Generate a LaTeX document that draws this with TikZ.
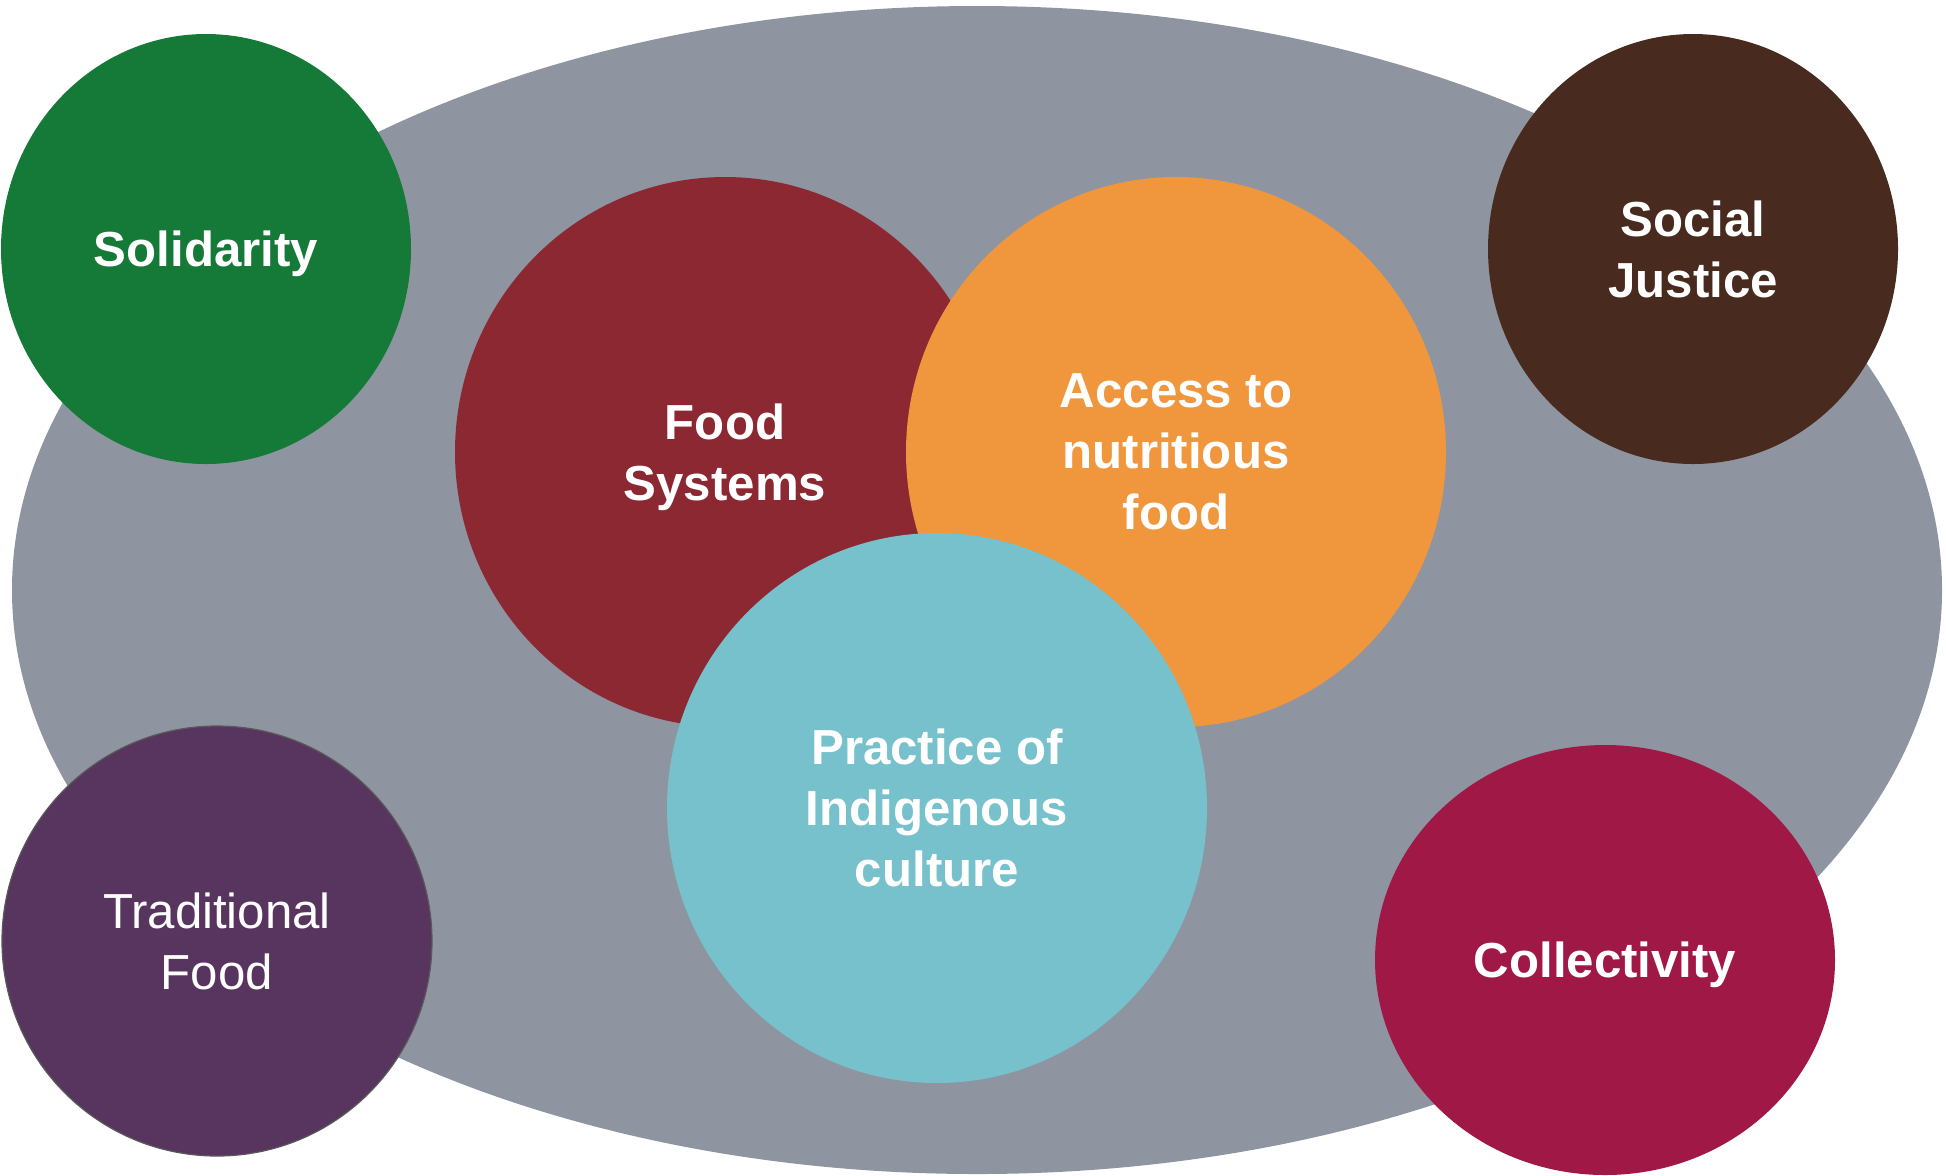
\documentclass[tikz,border=0pt]{standalone}
\usepackage{fontspec}
\setmainfont{Liberation Sans}
\usetikzlibrary{shapes.geometric}

\definecolor{fieldgrey}{HTML}{8E95A0}
\definecolor{solgreen}{HTML}{157A37}
\definecolor{justbrown}{HTML}{482B1E}
\definecolor{tradpurple}{HTML}{58355E}
\definecolor{collred}{HTML}{A01846}
\definecolor{sysred}{HTML}{8B2832}
\definecolor{accorange}{HTML}{F0963C}
\definecolor{practeal}{HTML}{76C1CB}

\begin{document}
\begin{tikzpicture}[x=0.5pt,y=-0.5pt,
    bubble/.style={ellipse,inner sep=0pt,text=white,align=center,text depth=0pt,
      font=\fontsize{24.6}{30.5}\selectfont\bfseries},
    small/.style={minimum width=205pt,minimum height=215pt},
    big/.style={minimum width=270pt,minimum height=275pt}]
    \useasboundingbox (0,0) rectangle (1946,1175);
    % background field
    \node[ellipse,fill=fieldgrey,minimum width=965pt,minimum height=584pt] (field) at (977,590) {};
    % outer bubbles
    \node[bubble,small,fill=solgreen] (sol) at (206,249) {Solidarity};
    \node[bubble,small,fill=justbrown] (just) at (1693,249) {Social\\Justice};
    \node[bubble,small,minimum width=215pt,fill=tradpurple,draw=black!65,line width=0.6pt,
      font=\fontsize{24.6}{30.5}\selectfont] (trad) at (217,941) {Traditional\\Food};
    \node[bubble,small,minimum width=230pt,fill=collred] (coll) at (1605,960) {Collectivity};
    % inner bubbles
    \node[bubble,big,fill=sysred] (sys) at (725,452) {Food\\Systems};
    \node[bubble,big,fill=accorange] (acc) at (1176,452) {Access to\\nutritious\\food};
    \node[bubble,big,fill=practeal] (prac) at (937,808) {Practice of\\Indigenous\\culture};
\end{tikzpicture}
\end{document}
